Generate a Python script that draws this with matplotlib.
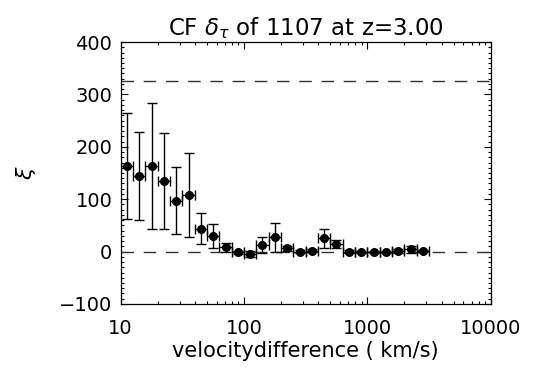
import numpy as np
from matplotlib import pyplot as plt
from matplotlib.ticker import MultipleLocator, LogLocator, FixedLocator

# velocity bin centres (km/s) and bin edges
vel = [11.2, 14.1, 17.8, 22.4, 28.2, 35.5, 44.7, 56.2, 70.8, 89.1,
       112, 141, 178, 224, 282, 355, 447, 562, 708, 891,
       1122, 1413, 1778, 2239, 2818]
vel_lo = [10.0, 12.6, 15.8, 20.0, 25.1, 31.6, 39.8, 50.1, 63.1, 79.4,
          100, 126, 158, 200, 251, 316, 398, 501, 631, 794,
          1000, 1259, 1585, 1995, 2512]
vel_hi = [12.6, 15.8, 20.0, 25.1, 31.6, 39.8, 50.1, 63.1, 79.4, 100,
          126, 158, 200, 251, 316, 398, 501, 631, 794, 1000,
          1259, 1585, 1995, 2512, 3162]
xi = [164, 144, 163, 135, 97, 108, 44, 30, 8, -1,
      -4, 13, 27, 6, 0, 2, 25, 14, 0, -1,
      -0.5, -1, 1, 4, 0.5]
xi_err = [101, 84, 120, 92, 64, 80, 30, 23, 8, 3,
          5.5, 15.5, 27, 4, 3, 3, 18, 8, 3, 2,
          2, 2, 3, 6, 2]
ref_levels = [0, 325]

vel = np.array(vel)
xerr = [vel - np.array(vel_lo), np.array(vel_hi) - vel]

plt.rcParams['font.family'] = ['DejaVu Sans']
plt.rcParams['mathtext.fontset'] = 'dejavusans'

fig = plt.figure(figsize=(5.49, 3.79), dpi=100)
ax = fig.add_axes([0.2198, 0.198, 0.674, 0.691])

for lev in ref_levels:
    ax.axhline(lev, color='#333333', lw=1.0, dashes=(9, 7))

ax.errorbar(vel, xi, yerr=xi_err, xerr=xerr, fmt='o', color='black',
            ms=5.5, elinewidth=1.0, capsize=3.5, capthick=1.0)

ax.set_xscale('log')
ax.set_xlim(10, 10000)
ax.set_ylim(-100, 400)
ax.yaxis.set_major_locator(FixedLocator([-100, 0, 100, 200, 300, 400]))
ax.yaxis.set_minor_locator(MultipleLocator(10))
ax.xaxis.set_major_locator(LogLocator(base=10))
ax.xaxis.set_minor_locator(LogLocator(base=10, subs=np.arange(2, 10)))
ax.set_xticklabels([], minor=True)
ax.xaxis.set_major_formatter(plt.FuncFormatter(lambda v, p: '%d' % v))

ax.tick_params(which='both', direction='in', top=True, right=True, width=0.8)
ax.tick_params(which='major', length=5, labelsize=14)
ax.tick_params(which='minor', length=2.5)
ax.tick_params(axis='x', which='major', pad=11)
ax.tick_params(axis='y', which='major', pad=6)
for s in ax.spines.values():
    s.set_linewidth(0.9)

ax.set_title(r'CF $\delta_\tau$ of 1107 at z=3.00', fontsize=16.5, pad=5)
ax.set_xlabel('velocitydifference ( km/s)', fontsize=15, labelpad=2)
ax.set_ylabel(r'$\xi$', fontsize=16, labelpad=15)

fig.savefig('out.png', dpi=100)
